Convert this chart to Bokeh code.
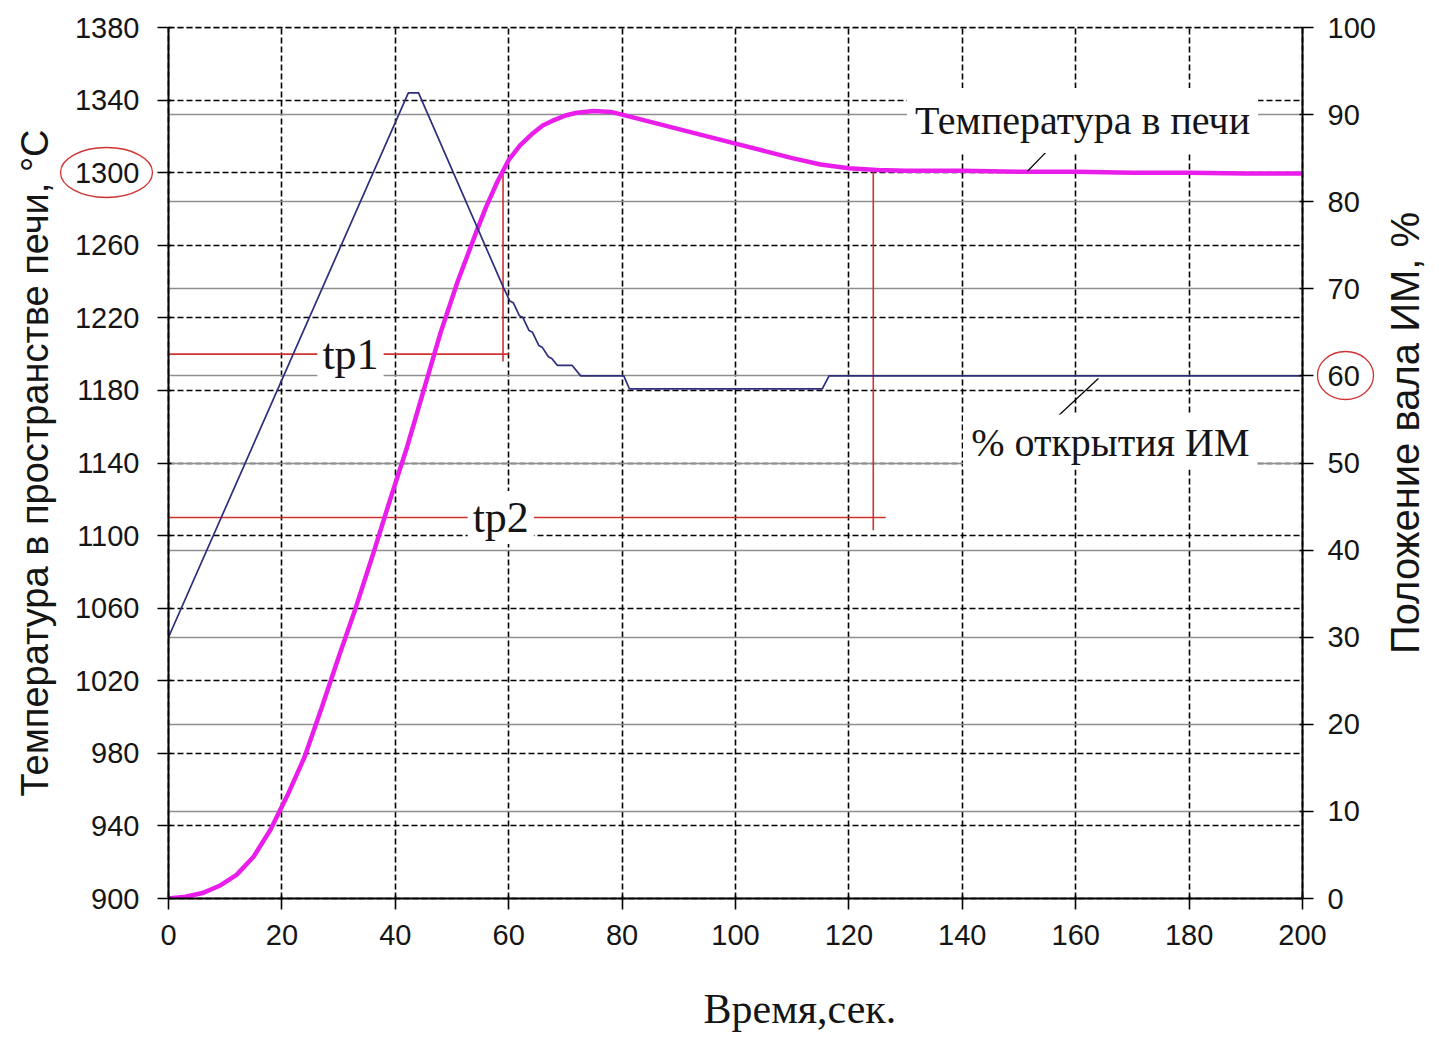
import math
from bokeh.plotting import figure
from bokeh.layouts import row
from bokeh.models import Range1d, LinearAxis, FixedTicker, Grid, Label, Title
from bokeh.embed import file_html
from bokeh.resources import INLINE

# ---- data ----
time_temp = [0, 3, 6, 9, 12, 15, 18, 21, 24, 27, 30, 33, 36, 39, 42, 45, 48, 51, 54,
             56, 58, 60, 62, 64, 66, 68, 70, 72, 75, 78, 80, 85, 90, 95, 100, 105, 110,
             115, 120, 125, 130, 140, 150, 160, 170, 180, 190, 200]
temp = [900, 901, 903, 907, 913, 923, 938, 957, 978, 1005, 1033, 1060, 1089, 1119, 1148,
        1180, 1212, 1240, 1265, 1281, 1295, 1307, 1315, 1321, 1326, 1329, 1331.5, 1333,
        1334, 1333.5, 1332, 1328, 1324, 1320, 1316, 1312, 1308, 1304.5, 1302.5, 1301.5,
        1301, 1301, 1300.5, 1300.5, 1300, 1300, 1299.5, 1299.5]

time_pos = [0, 42.3, 44.1, 59.1, 60.2, 60.8, 61.9, 62.5, 63.6, 64.2, 65.3, 65.9, 67.0,
            67.6, 68.6, 71.2, 72.7, 80.3, 81.3, 115.3, 116.5, 200]
pos = [30, 92.5, 92.5, 70.1, 68.6, 68.4, 66.9, 66.7, 65.2, 65.0, 63.5, 63.3, 62.2,
       62.0, 61.2, 61.2, 60.0, 60.0, 58.5, 58.5, 60.0, 60.0]

x_ticks = [0, 20, 40, 60, 80, 100, 120, 140, 160, 180, 200]
temp_ticks = [900, 940, 980, 1020, 1060, 1100, 1140, 1180, 1220, 1260, 1300, 1340, 1380]
pos_ticks = [0, 10, 20, 30, 40, 50, 60, 70, 80, 90, 100]

x_label = "Время,сек."
y_label = "Температура в пространстве печи, °C"
y2_label = "Положение вала ИМ, %"
temp_name = "Температура в печи"
pos_name = "% открытия ИМ"

set_point = 1300
tp1_time, tp1_level = 59.0, 1200
tp2_time, tp2_level = 124.3, 1110

FRAME_L, FRAME_T, FRAME_W, FRAME_H, BOTTOM = 168, 27, 1134, 871, 141

p = figure(frame_width=FRAME_W, frame_height=FRAME_H,
           x_range=Range1d(0, 200), y_range=Range1d(900, 1380.01),
           output_backend="svg", toolbar_location=None,
           min_border_left=FRAME_L, min_border_top=FRAME_T, min_border_right=0,
           min_border_bottom=BOTTOM)
p.extra_y_ranges = {"pct": Range1d(0, 100)}
p.outline_line_color = "black"
p.outline_line_width = 1.6
p.outline_line_dash = "6 3"

TICK_FONT = "Liberation Sans"
INK = "#151515"
RED = "#D03232"

xa = p.xaxis[0]
xa.ticker = FixedTicker(ticks=x_ticks)
xa.major_label_standoff = 15
xa.axis_label = "\u2007"          # blank spacer that pushes the title down
xa.axis_label_text_font_size = "12px"
xa.axis_label_standoff = 19

ya = p.yaxis[0]
ya.ticker = FixedTicker(ticks=temp_ticks)
ya.axis_label = y_label
ya.axis_label_text_font = TICK_FONT
ya.axis_label_text_font_style = "normal"
ya.axis_label_text_font_size = "38px"
ya.axis_label_standoff = 16
ya.major_label_standoff = 18

# right axis: title reads bottom-to-top, anchored at the axis start and lifted by blank space
ra = LinearAxis(y_range_name="pct", ticker=FixedTicker(ticks=pos_ticks),
                axis_label="\u00a0" * 22 + y2_label)
ra.axis_label_text_font = TICK_FONT
ra.axis_label_text_font_style = "normal"
ra.axis_label_text_font_size = "40px"
ra.axis_label_standoff = 26
ra.major_label_standoff = 14
ra.axis_label_orientation = math.pi / 2
for v in ("start", "left"):
    try:
        ra.axis_label_align = v
        break
    except Exception:
        pass
p.add_layout(ra, "right")

for ax in (xa, ya, ra):
    ax.major_label_text_font = TICK_FONT
    ax.major_label_text_font_size = "29px"
    ax.major_label_text_color = INK
    ax.axis_label_text_color = INK
    ax.axis_line_color = "black"
    ax.axis_line_width = 2
    ax.major_tick_line_color = "black"
    ax.major_tick_line_width = 1.6
    ax.major_tick_out = 11
    ax.major_tick_in = 3
    ax.minor_tick_line_color = None

xt = Title(text=x_label, align="left", offset=535, text_font="Liberation Serif",
           text_font_size="42px", text_font_style="normal", text_color=INK, standoff=0)
p.add_layout(xt, "below")

p.xgrid.grid_line_color = "black"
p.xgrid.grid_line_width = 1.6
p.xgrid.grid_line_dash = "6 3"
p.ygrid.grid_line_color = "black"
p.ygrid.grid_line_width = 1.6
p.ygrid.grid_line_dash = "6 3"
g2 = Grid(dimension=1, ticker=FixedTicker(ticks=pos_ticks), y_range_name="pct",
          grid_line_color="#8f8f8f", grid_line_width=1.4)
p.add_layout(g2)

p.line([-2, tp1_time + 1], [tp1_level, tp1_level], line_color=RED, line_width=1.6)
p.line([tp1_time, tp1_time], [tp1_level - 4, set_point], line_color=RED, line_width=1.6)
p.line([-2, tp2_time + 2.2], [tp2_level, tp2_level], line_color=RED, line_width=1.6)
p.line([tp2_time, tp2_time], [tp2_level - 7, set_point + 2], line_color=RED, line_width=1.6)

p.line(time_temp, temp, line_color="#EA1EEA", line_width=4.5)
p.line(time_pos, pos, y_range_name="pct", line_color="#2E2E7C", line_width=1.7)

p.line([156.1, 151.5], [1315.6, 1300.8], line_color="black", line_width=1.2)
p.line([164.0, 155.9], [59.7, 54.8], y_range_name="pct", line_color="black", line_width=1.2)

def box_label(x, y, text, size, pad, y_range_name="default"):
    lab = Label(x=x, y=y, text=text, text_align="center", text_baseline="middle",
                text_font="Liberation Serif", text_font_size=size, text_color=INK,
                background_fill_color="white", padding=pad, y_range_name=y_range_name)
    p.add_layout(lab)

box_label(32.1, 1200, "tp1", "44px", dict(left=5, right=5, top=2, bottom=2))
box_label(58.6, 1110, "tp2", "44px", dict(left=5, right=5, top=2, bottom=2))
box_label(161.2, 1328.7, temp_name, "40px", dict(left=8, right=8, top=10, bottom=10))
box_label(166.1, 52.4, pos_name, "40px", dict(left=8, right=8, top=5, bottom=5), "pct")

# ---- transparent overlay (page-pixel coordinates) carrying the red rings round "1300" and "60" ----
OW = 1420
OH = FRAME_T + FRAME_H + BOTTOM
ring = figure(width=OW, height=OH, x_range=Range1d(0, OW),
              y_range=Range1d(FRAME_T + FRAME_H, FRAME_T),
              output_backend="svg", toolbar_location=None,
              x_axis_location=None, y_axis_location=None,
              min_border=0, min_border_left=0, min_border_right=0,
              min_border_top=FRAME_T, min_border_bottom=BOTTOM)
ring.grid.visible = False
ring.background_fill_color = None
ring.border_fill_color = None
ring.outline_line_color = None
ring_x = [106, 1345]
ring_y = [172, 375]
ring_w = [92, 56]
ring_h = [50, 48]
ring.ellipse(x=ring_x, y=ring_y, width=ring_w, height=ring_h, fill_color=None,
             line_color=RED, line_width=1.3)
ring.styles = {"position": "absolute", "left": "0px", "top": "0px", "pointer-events": "none"}

root = row(p, ring)
open("out.html", "w").write(file_html(root, INLINE))
